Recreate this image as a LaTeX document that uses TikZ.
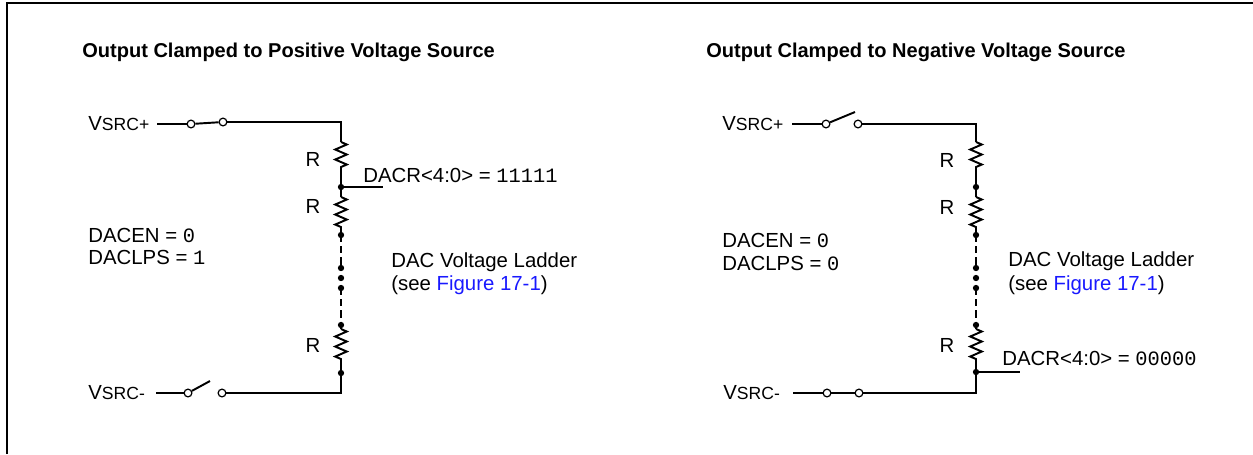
\documentclass[tikz,border=0pt]{standalone}
\usepackage{fontspec}
\setmainfont{Liberation Sans}
\setmonofont{Liberation Mono}
\usetikzlibrary{decorations.pathmorphing}
\definecolor{linkblue}{RGB}{25,25,255}
\tikzset{
  wire/.style={line width=1.1pt},
  resistor/.style={wire, decorate, decoration={zigzag, segment length=5.7pt, amplitude=3.3pt}},
  ladder/.style={wire, dash pattern=on 4pt off 2.4pt},
  contact/.style={circle, draw, fill=white, inner sep=0pt, minimum size=4.4pt, line width=0.7pt},
  junction/.style={circle, fill, inner sep=0pt, minimum size=3.6pt},
  lbl/.style={inner sep=0pt, anchor=west, font=\fontsize{11.6}{14}\selectfont},
  rlbl/.style={inner sep=0pt, font=\fontsize{11.6}{14}\selectfont},
  heading/.style={inner sep=0pt, anchor=west, font=\fontsize{11.4}{13}\selectfont\bfseries}
}
\newcommand{\vsrc}[1]{{\fontsize{11.6}{14}\selectfont V}{\fontsize{10}{12}\selectfont SRC#1}}
\begin{document}
\begin{tikzpicture}[x=0.02cm, y=-0.02cm]

        \useasboundingbox (0,0) rectangle (1253,454);
        \draw[line width=1.7pt] (7,454) -- (7,3) -- (1253,3);

        % positive clamp
        \node[heading] (headA) at (82,52) {Output Clamped to Positive Voltage Source};
        \node[lbl] (vpA) at (88,124) {\vsrc{+}};
        \node[lbl] (vmA) at (88,393) {\vsrc{-}};
        \coordinate (wpA) at (157,124);
        \coordinate (wmA) at (156,393);
        \node[contact] (spA1) at (191,124) {};
        \node[contact] (spA2) at (223,122) {};
        \node[contact] (smA1) at (188,393) {};
        \node[contact] (smA2) at (222,393) {};
        \coordinate (bladeA) at (210,381);
        \coordinate (topA) at (341,124);
        \coordinate (botA) at (341,393);
        \coordinate (r1tA) at (341,142);
        \coordinate (r1bA) at (341,172);
        \node[junction] (j1A) at (341,187) {};
        \coordinate (tapA) at (383,187);
        \coordinate (r2tA) at (341,197);
        \coordinate (r2bA) at (341,228);
        \node[junction] (j2A) at (341,235) {};
        \node[junction] (d1A) at (341,268) {};
        \node[junction] (d2A) at (341,278) {};
        \node[junction] (d3A) at (341,288) {};
        \node[junction] (j3A) at (341,325) {};
        \coordinate (r3tA) at (341,329);
        \coordinate (r3bA) at (341,360);
        \node[junction] (j4A) at (341,373) {};

        \draw[wire] (wpA) -- (spA1);
        \draw[wire] (spA1) -- (spA2);
        \draw[wire] (spA2) -- (spA2 -| topA) -- (topA) -- (r1tA);
        \draw[resistor] (r1tA) -- (r1bA);
        \draw[wire] (r1bA) -- (j1A.center) -- (r2tA);
        \draw[wire] (j1A.center) -- (tapA);
        \draw[resistor] (r2tA) -- (r2bA);
        \draw[wire] (r2bA) -- (j2A.center);
        \draw[ladder] (j2A.center) -- (d1A.center);
        \draw[ladder] (d3A.center) -- (j3A.center);
        \draw[wire] (j3A.center) -- (r3tA);
        \draw[resistor] (r3tA) -- (r3bA);
        \draw[wire] (r3bA) -- (j4A.center) -- (botA) -- (smA2);
        \draw[wire] (wmA) -- (smA1);
        \draw[wire] (smA1) -- (bladeA);

        \node[rlbl] (rA1) at (313,159) {R};
        \node[rlbl] (rA2) at (313,206) {R};
        \node[rlbl] (rA3) at (313,345) {R};
        \node[lbl] (codeA) at (363,175) {DACR<4:0> = \texttt{11111}};
        \node[lbl] (enA) at (88,235) {DACEN = \texttt{0}};
        \node[lbl] (lpsA) at (88,257) {DACLPS = \texttt{1}};
        \node[lbl] (ladA) at (391,262) {DAC Voltage Ladder};
        \node[lbl] (seeA) at (391,285) {(see \textcolor{linkblue}{Figure 17-1})};

        % negative clamp
        \node[heading] (headB) at (706,52) {Output Clamped to Negative Voltage Source};
        \node[lbl] (vpB) at (722,124) {\vsrc{+}};
        \node[lbl] (vmB) at (723,393) {\vsrc{-}};
        \coordinate (wpB) at (792,124);
        \coordinate (wmB) at (793,393);
        \node[contact] (spB1) at (826,124) {};
        \node[contact] (spB2) at (858,124) {};
        \node[contact] (smB1) at (827,393) {};
        \node[contact] (smB2) at (859,393) {};
        \coordinate (bladeB) at (855,112);
        \coordinate (topB) at (976,124);
        \coordinate (botB) at (976,393);
        \coordinate (r1tB) at (976,142);
        \coordinate (r1bB) at (976,172);
        \node[junction] (j1B) at (976,187) {};
        \coordinate (r2tB) at (976,197);
        \coordinate (r2bB) at (976,228);
        \node[junction] (j2B) at (976,235) {};
        \node[junction] (d1B) at (976,268) {};
        \node[junction] (d2B) at (976,278) {};
        \node[junction] (d3B) at (976,288) {};
        \node[junction] (j3B) at (976,325) {};
        \coordinate (r3tB) at (976,329);
        \coordinate (r3bB) at (976,360);
        \node[junction] (j4B) at (976,372) {};
        \coordinate (tapB) at (1020,372);

        \draw[wire] (wpB) -- (spB1);
        \draw[wire] (spB1) -- (bladeB);
        \draw[wire] (spB2) -- (topB) -- (r1tB);
        \draw[resistor] (r1tB) -- (r1bB);
        \draw[wire] (r1bB) -- (j1B.center) -- (r2tB);
        \draw[resistor] (r2tB) -- (r2bB);
        \draw[wire] (r2bB) -- (j2B.center);
        \draw[ladder] (j2B.center) -- (d1B.center);
        \draw[ladder] (d3B.center) -- (j3B.center);
        \draw[wire] (j3B.center) -- (r3tB);
        \draw[resistor] (r3tB) -- (r3bB);
        \draw[wire] (r3bB) -- (j4B.center) -- (botB) -- (smB2);
        \draw[wire] (j4B.center) -- (tapB);
        \draw[wire] (wmB) -- (smB1);
        \draw[wire] (smB1) -- (smB2);

        \node[rlbl] (rB1) at (947,160) {R};
        \node[rlbl] (rB2) at (947,207) {R};
        \node[rlbl] (rB3) at (947,345) {R};
        \node[lbl] (codeB) at (1002,358) {DACR<4:0> = \texttt{00000}};
        \node[lbl] (enB) at (722,240) {DACEN = \texttt{0}};
        \node[lbl] (lpsB) at (722,263) {DACLPS = \texttt{0}};
        \node[lbl] (ladB) at (1008,261) {DAC Voltage Ladder};
        \node[lbl] (seeB) at (1008,285) {(see \textcolor{linkblue}{Figure 17-1})};

      \end{tikzpicture}
\end{document}
